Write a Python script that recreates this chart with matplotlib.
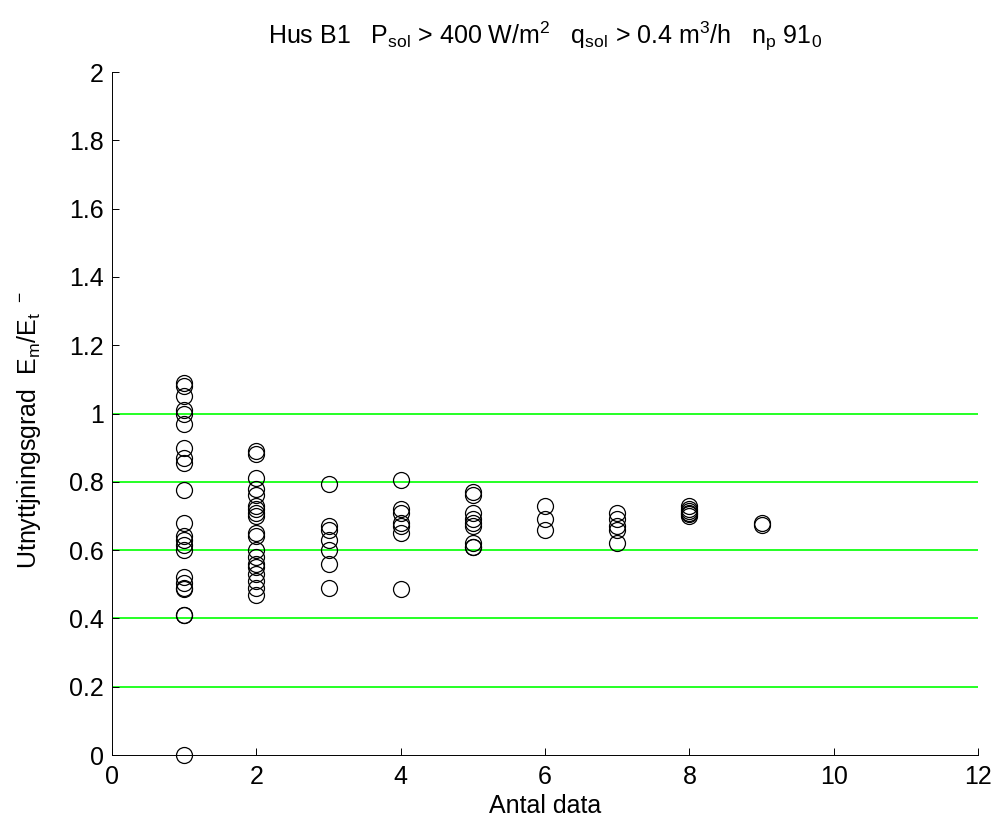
import matplotlib
matplotlib.use('Agg')
import matplotlib.pyplot as plt

plt.rcParams['font.family'] = ['Liberation Sans', 'DejaVu Sans']
plt.rcParams['mathtext.fontset'] = 'custom'
plt.rcParams['mathtext.rm'] = 'Liberation Sans'
plt.rcParams['mathtext.it'] = 'Liberation Sans'
plt.rcParams['mathtext.default'] = 'rm'

# utnyttjningsgrad per antal data
col1 = [1.09, 1.08, 1.05, 1.01, 1.00, 0.97, 0.90, 0.87, 0.855, 0.775, 0.68,
        0.64, 0.63, 0.615, 0.60, 0.52, 0.505, 0.49, 0.485, 0.41, 0.41, 0.0]
col2 = [0.89, 0.88, 0.81, 0.78, 0.76, 0.73, 0.72, 0.70, 0.71, 0.65, 0.64,
        0.60, 0.58, 0.56, 0.55, 0.53, 0.51, 0.49, 0.47]
col3 = [0.795, 0.67, 0.66, 0.63, 0.60, 0.56, 0.49]
col4 = [0.805, 0.72, 0.71, 0.68, 0.67, 0.65, 0.485]
col5 = [0.77, 0.76, 0.71, 0.69, 0.68, 0.67, 0.62, 0.61, 0.61]
col6 = [0.73, 0.69, 0.66]
col7 = [0.71, 0.69, 0.67, 0.66, 0.62]
col8 = [0.73, 0.72, 0.715, 0.71, 0.705, 0.70]
col9 = [0.68, 0.675]
columns = [col1, col2, col3, col4, col5, col6, col7, col8, col9]

grid_levels = [0.2, 0.4, 0.6, 0.8, 1.0]
xticks = [0, 2, 4, 6, 8, 10, 12]
yticks = [0, 0.2, 0.4, 0.6, 0.8, 1, 1.2, 1.4, 1.6, 1.8, 2]
yticklabels = ['0', '0.2', '0.4', '0.6', '0.8', '1', '1.2', '1.4', '1.6', '1.8', '2']

fs = 18

fig = plt.figure(figsize=(9.95, 8.23), dpi=100)
ax = fig.add_axes([0.1126, 0.0826, 0.8704, 0.8299])

for lev in grid_levels:
    ax.plot([0, 12], [lev, lev], color='#00ff00', lw=1.2, zorder=1)

for i, vals in enumerate(columns):
    ax.plot([i + 1] * len(vals), vals, 'o', mfc='none', mec='black',
            ms=11.5, mew=0.9, zorder=3, clip_on=False)

ax.set_xlim(0, 12)
ax.set_ylim(0, 2)
ax.set_xticks(xticks)
ax.set_yticks(yticks)
ax.set_yticklabels(yticklabels)
ax.spines['top'].set_visible(False)
ax.spines['right'].set_visible(False)
for s in ['left', 'bottom']:
    ax.spines[s].set_linewidth(0.7)
ax.tick_params(direction='in', length=5, width=0.7, labelsize=fs)
ax.tick_params(axis='x', pad=7)
ax.tick_params(axis='y', pad=6)

ax.set_xlabel('Antal data', fontsize=fs, labelpad=4)
ax.set_ylabel('Utnyttjningsgrad  E$_m$/E$_t$ $^-$', fontsize=fs)
ax.yaxis.set_label_coords(-0.08, 0.476)
ax.set_title('Hus B1   P$_{sol}$ > 400 W/m$^2$   q$_{sol}$ > 0.4 m$^3$/h   n$_p$ 91$_0$',
             fontsize=fs, pad=20)

fig.savefig('out.png', dpi=100)
